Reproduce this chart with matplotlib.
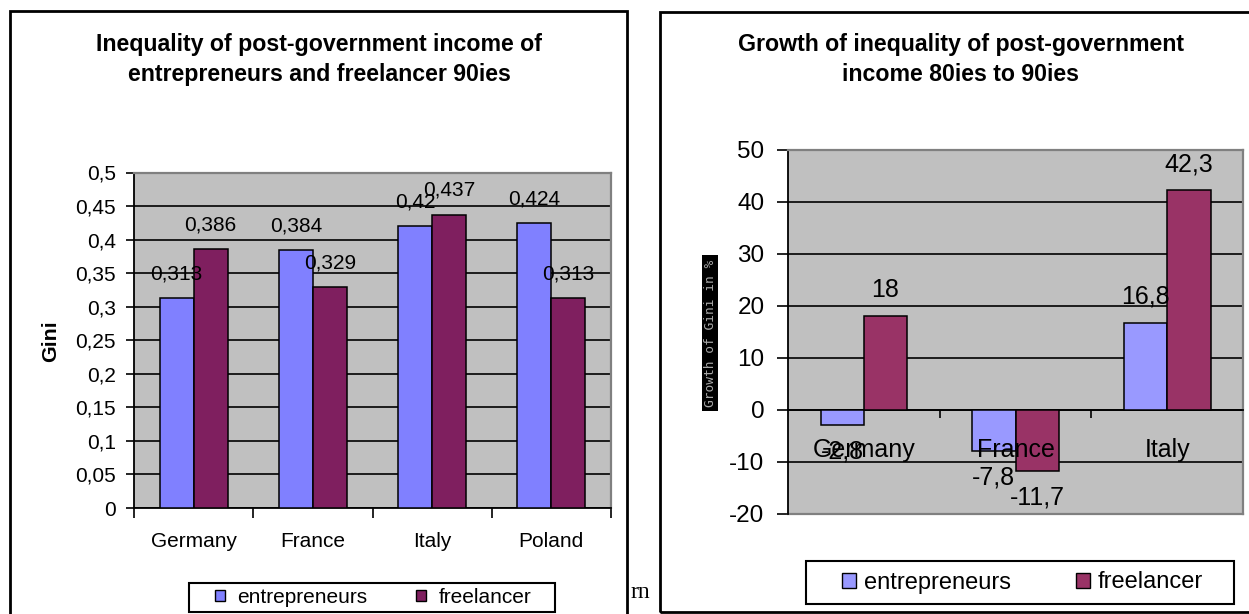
import matplotlib
matplotlib.use("Agg")
import matplotlib.pyplot as plt
from matplotlib.patches import Rectangle, Patch
import numpy as np

plt.rcParams['font.family'] = ['Liberation Sans', 'DejaVu Sans']
plt.rcParams['axes.unicode_minus'] = False

# data
left_countries = ["Germany", "France", "Italy", "Poland"]
left_entrepreneurs = [0.313, 0.384, 0.42, 0.424]
left_freelancer = [0.386, 0.329, 0.437, 0.313]
left_yticks = [0, 0.05, 0.1, 0.15, 0.2, 0.25, 0.3, 0.35, 0.4, 0.45, 0.5]

right_countries = ["Germany", "France", "Italy"]
right_entrepreneurs = [-2.8, -7.8, 16.8]
right_freelancer = [18, -11.7, 42.3]
right_yticks = [-20, -10, 0, 10, 20, 30, 40, 50]

series = ["entrepreneurs", "freelancer"]

W, H = 1249, 614


def fx(x):
    return x / W


def fy(y):
    return 1 - y / H


def comma(v):
    return f"{v:g}".replace('.', ',')


fig = plt.figure(figsize=(W / 100, H / 100), dpi=100)
bw = 1 / 3.5

# ---------- left chart ----------
axL = fig.add_axes([fx(134), fy(508), (611 - 134) / W, (508 - 172.5) / H])
axL.set_facecolor('#c0c0c0')
x = np.arange(len(left_countries))
c1, c2 = '#8080ff', '#7f1f5f'
axL.bar(x - bw / 2, left_entrepreneurs, bw, color=c1, edgecolor='black', linewidth=1.1, zorder=3)
axL.bar(x + bw / 2, left_freelancer, bw, color=c2, edgecolor='black', linewidth=1.1, zorder=3)
for xi, v in zip(x - bw / 2, left_entrepreneurs):
    axL.annotate(comma(v), (xi, v), xytext=(0, 17.6), textcoords='offset points',
                 ha='center', va='center', fontsize=15, zorder=4)
for xi, v in zip(x + bw / 2, left_freelancer):
    axL.annotate(comma(v), (xi, v), xytext=(0, 17.6), textcoords='offset points',
                 ha='center', va='center', fontsize=15, zorder=4)
axL.set_xlim(-0.5, len(left_countries) - 0.5)
axL.set_ylim(0, 0.5)
axL.set_yticks(left_yticks)
axL.set_yticklabels([comma(v) for v in left_yticks], fontsize=15)
axL.yaxis.grid(True, color='black', linewidth=1.2)
axL.set_axisbelow(True)
axL.set_xticks(x)
axL.set_xticklabels(left_countries, fontsize=15)
axL.set_xticks(np.arange(-0.5, len(left_countries), 1), minor=True)
axL.tick_params(axis='x', which='major', length=0, pad=17)
axL.tick_params(axis='x', which='minor', length=7, width=1.2, direction='out')
axL.tick_params(axis='y', length=6, width=1.2, pad=7, direction='out')
for s in ['top', 'right']:
    axL.spines[s].set_color('#808080')
    axL.spines[s].set_linewidth(1.6)
for s in ['left', 'bottom']:
    axL.spines[s].set_color('black')
    axL.spines[s].set_linewidth(1.3)

fig.text(fx(319), fy(51), "Inequality of post-government income of", ha='center',
         va='baseline', fontsize=16.7, weight='bold')
fig.text(fx(319), fy(81), "entrepreneurs and freelancer 90ies", ha='center',
         va='baseline', fontsize=16.7, weight='bold')
fig.text(fx(51), fy(341), "Gini", rotation=90, ha='center', va='center',
         fontsize=15.4, weight='bold')

hL = [Patch(facecolor=c1, edgecolor='black', linewidth=1), Patch(facecolor=c2, edgecolor='black', linewidth=1)]
fig.legend(hL, series, loc='center', bbox_to_anchor=(fx(373), fy(597.5)),
           bbox_transform=fig.transFigure, ncol=2, frameon=False, fontsize=15,
           handlelength=0.48, handleheight=0.48, handletextpad=0.6,
           columnspacing=2.35, borderpad=0)
fig.add_artist(Rectangle((fx(189), fy(612)), 366 / W, 29 / H, fill=False,
                         edgecolor='black', linewidth=1.5, transform=fig.transFigure))

# ---------- right chart ----------
axR = fig.add_axes([fx(788), fy(514), (1243 - 788) / W, (514 - 150) / H])
axR.set_facecolor('#c0c0c0')
x = np.arange(len(right_countries))
d1, d2 = '#9999ff', '#993366'
axR.bar(x - bw / 2, right_entrepreneurs, bw, color=d1, edgecolor='black', linewidth=1.1, zorder=3)
axR.bar(x + bw / 2, right_freelancer, bw, color=d2, edgecolor='black', linewidth=1.1, zorder=3)
for xs, vals in [(x - bw / 2, right_entrepreneurs), (x + bw / 2, right_freelancer)]:
    for xi, v in zip(xs, vals):
        off = 18.7 if v >= 0 else -19.5
        axR.annotate(comma(v), (xi, v), xytext=(0, off), textcoords='offset points',
                     ha='center', va='center', fontsize=18, zorder=4)
# category names sit on top of the bars, just under the zero line
for xi, name in zip(x, right_countries):
    axR.annotate(name, (xi, 0), xytext=(0, -28.5), textcoords='offset points',
                 ha='center', va='center', fontsize=18, zorder=5)
axR.set_xlim(-0.5, len(right_countries) - 0.5)
axR.set_ylim(-20, 50)
axR.set_yticks(right_yticks)
axR.set_yticklabels([comma(v) for v in right_yticks], fontsize=17.5)
axR.yaxis.grid(True, color='black', linewidth=1.2)
axR.set_axisbelow(True)
axR.spines['bottom'].set_position(('data', 0))
axR.set_xticks(np.arange(0.5, len(right_countries), 1))
axR.set_xticklabels([])
axR.tick_params(axis='x', length=6, width=1.2, direction='out')
axR.tick_params(axis='y', length=8, width=1.2, pad=9, direction='out')
for s in ['top', 'right']:
    axR.spines[s].set_color('#808080')
    axR.spines[s].set_linewidth(1.6)
axR.spines['left'].set_linewidth(1.3)
axR.spines['bottom'].set_linewidth(1.3)
axR.axhline(-20, color='#808080', linewidth=1.6, clip_on=False, zorder=2)

fig.text(fx(961), fy(51), "Growth of inequality of post-government", ha='center',
         va='baseline', fontsize=16.7, weight='bold')
fig.text(fx(961), fy(81), "income 80ies to 90ies", ha='center',
         va='baseline', fontsize=16.7, weight='bold')

fig.add_artist(Rectangle((fx(702), fy(411)), 16 / W, 156 / H, facecolor='black',
                         edgecolor='none', transform=fig.transFigure))
fig.text(fx(710), fy(333), "Growth of Gini in %", rotation=90, ha='center', va='center',
         color='#a8a8a8', fontsize=9.3, family='DejaVu Sans Mono')

hR = [Patch(facecolor=d1, edgecolor='black', linewidth=1), Patch(facecolor=d2, edgecolor='black', linewidth=1)]
fig.legend(hR, series, loc='center', bbox_to_anchor=(fx(1022.5), fy(582.5)),
           bbox_transform=fig.transFigure, ncol=2, frameon=False, fontsize=17,
           handlelength=0.6, handleheight=0.6, handletextpad=0.33,
           columnspacing=2.75, borderpad=0)
fig.add_artist(Rectangle((fx(806), fy(604)), 428 / W, 43 / H, fill=False,
                         edgecolor='black', linewidth=1.5, transform=fig.transFigure))

# outer frames and the stray text between them
fig.text(fx(650), fy(598), "rn", ha='right', va='baseline', fontsize=17,
         family='Liberation Serif', zorder=0)
fig.add_artist(Rectangle((fx(10), fy(660)), 617 / W, 649 / H, fill=False,
                         edgecolor='black', linewidth=2, transform=fig.transFigure))
fig.add_artist(Rectangle((fx(660), fy(612)), 700 / W, 600.5 / H, fill=False,
                         edgecolor='black', linewidth=2, transform=fig.transFigure))

fig.savefig("out.png", dpi=100)
